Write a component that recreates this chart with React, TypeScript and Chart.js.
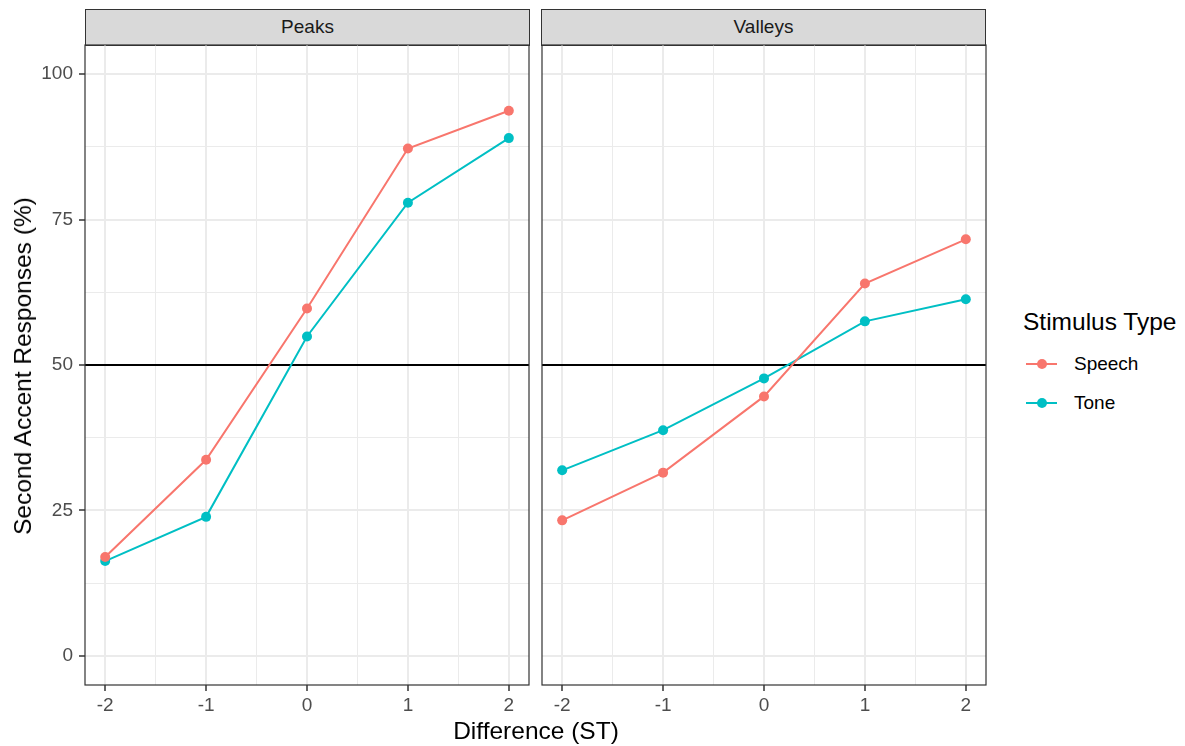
import React, { useEffect, useRef } from "react";
import { Chart, registerables } from "chart.js";

Chart.register(...registerables);

const xValues = [-2, -1, 0, 1, 2];
const peaksSpeech = [17.0, 33.7, 59.7, 87.2, 93.7];
const peaksTone = [16.3, 23.9, 54.9, 77.9, 89.0];
const valleysSpeech = [23.3, 31.5, 44.6, 64.0, 71.6];
const valleysTone = [31.9, 38.8, 47.7, 57.5, 61.3];
const xTickValues = [-2, -1.5, -1, -0.5, 0, 0.5, 1, 1.5, 2];
const yTickValues = [0, 12.5, 25, 37.5, 50, 62.5, 75, 87.5, 100];
const referenceLine = 50;
const seriesNames = ["Speech", "Tone"];
const seriesColors = ["#F8766D", "#00BFC4"];
const panelTitles = ["Peaks", "Valleys"];

const FONT = "'Liberation Sans', Arial, sans-serif";
const TICK_SIZE = 19;
const TITLE_SIZE = 24.5;

const isMajor = (v: number) => Math.abs(v - Math.round(v)) < 1e-9;

function makeChart(canvas: HTMLCanvasElement, speech: number[], tone: number[], showY: boolean) {
  const frame = {
    id: "frame",
    beforeDatasetsDraw(chart: any) {
      const { ctx, chartArea, scales } = chart;
      const y = scales.y.getPixelForValue(referenceLine);
      ctx.save();
      ctx.strokeStyle = "#000000";
      ctx.lineWidth = 2;
      ctx.beginPath();
      ctx.moveTo(chartArea.left, y);
      ctx.lineTo(chartArea.right, y);
      ctx.stroke();
      ctx.restore();
    },
    afterDraw(chart: any) {
      const { ctx, chartArea } = chart;
      ctx.save();
      ctx.strokeStyle = "#333333";
      ctx.lineWidth = 1.2;
      ctx.strokeRect(chartArea.left, chartArea.top, chartArea.right - chartArea.left, chartArea.bottom - chartArea.top);
      ctx.restore();
    },
  };
  const mk = (vals: number[], i: number) => ({
    label: seriesNames[i],
    data: xValues.map((x, k) => ({ x, y: vals[k] })),
    borderColor: seriesColors[i],
    backgroundColor: seriesColors[i],
    borderWidth: 2,
    pointRadius: 5,
    pointBorderWidth: 0,
    pointBackgroundColor: seriesColors[i],
    showLine: true,
    tension: 0,
  });
  return new Chart(canvas, {
    type: "scatter",
    data: { datasets: [mk(speech, 0), mk(tone, 1)] },
    options: {
      animation: false,
      responsive: false,
      maintainAspectRatio: false,
      events: [],
      layout: { padding: showY ? { top: 5, right: 11, bottom: 5, left: 0 } : { top: 5, right: 5, bottom: 5, left: 0 } },
      plugins: { legend: { display: false }, tooltip: { enabled: false } },
      scales: {
        x: {
          type: "linear",
          min: -2.2,
          max: 2.2,
          afterBuildTicks: (axis: any) => {
            axis.ticks = xTickValues.map((v) => ({ value: v }));
          },
          afterFit: (axis: any) => {
            axis.height = 50;
            axis.paddingLeft = 0;
            axis.paddingRight = 0;
          },
          border: { display: false },
          grid: {
            color: "#EBEBEB",
            lineWidth: (c: any) => (isMajor(c.tick.value) ? 2 : 1),
            tickColor: (c: any) => (isMajor(c.tick.value) ? "#333333" : "rgba(0,0,0,0)"),
            tickWidth: 1.5,
            tickLength: 6,
          },
          ticks: {
            autoSkip: false,
            maxRotation: 0,
            padding: 3,
            color: "#4D4D4D",
            font: { family: FONT, size: TICK_SIZE },
            callback: (v: any) => (isMajor(Number(v)) ? String(v) : ""),
          },
        },
        y: {
          type: "linear",
          min: -5,
          max: 105,
          afterBuildTicks: (axis: any) => {
            axis.ticks = yTickValues.map((v) => ({ value: v }));
          },
          afterFit: (axis: any) => {
            axis.width = showY ? 85 : 6;
            axis.paddingTop = 0;
            axis.paddingBottom = 0;
          },
          border: { display: false },
          grid: {
            color: "#EBEBEB",
            lineWidth: (c: any) => (c.tick.value % 25 === 0 ? 2 : 1),
            tickColor: (c: any) => (showY && c.tick.value % 25 === 0 ? "#333333" : "rgba(0,0,0,0)"),
            tickWidth: 1.5,
            tickLength: 6,
          },
          ticks: {
            display: showY,
            autoSkip: false,
            padding: 6,
            color: "#4D4D4D",
            font: { family: FONT, size: TICK_SIZE },
            callback: (v: any) => (Number(v) % 25 === 0 ? String(v) : ""),
          },
        },
      },
    },
    plugins: [frame],
  } as any);
}

const stripStyle = (left: number, width: number): React.CSSProperties => ({
  position: "absolute",
  left,
  top: 9,
  width,
  height: 36.5,
  boxSizing: "border-box",
  background: "#D9D9D9",
  border: "1.2px solid #333333",
  display: "flex",
  alignItems: "center",
  justifyContent: "center",
  fontFamily: FONT,
  fontSize: TICK_SIZE,
  color: "#1A1A1A",
});

export default function App() {
  const refA = useRef<HTMLCanvasElement>(null);
  const refB = useRef<HTMLCanvasElement>(null);
  useEffect(() => {
    const a = makeChart(refA.current!, peaksSpeech, peaksTone, true);
    const b = makeChart(refB.current!, valleysSpeech, valleysTone, false);
    return () => {
      a.destroy();
      b.destroy();
    };
  }, []);
  return (
    <div style={{ position: "fixed", left: 0, top: 0, width: 1185, height: 746, background: "#fff", overflow: "hidden" }}>
      <div style={stripStyle(85, 445)}>{panelTitles[0]}</div>
      <div style={stripStyle(541, 445)}>{panelTitles[1]}</div>
      <canvas ref={refA} width={540} height={700} style={{ position: "absolute", left: 0, top: 40, width: 540, height: 700 }} />
      <canvas ref={refB} width={455} height={700} style={{ position: "absolute", left: 536, top: 40, width: 455, height: 700 }} />
      <div
        style={{
          position: "absolute",
          left: 23,
          top: 366,
          transform: "translate(-50%, -50%) rotate(-90deg)",
          whiteSpace: "nowrap",
          fontFamily: FONT,
          fontSize: TITLE_SIZE,
          color: "#000",
        }}
      >
        Second Accent Responses (%)
      </div>
      <div
        style={{
          position: "absolute",
          left: 536,
          top: 731,
          transform: "translate(-50%, -50%)",
          whiteSpace: "nowrap",
          fontFamily: FONT,
          fontSize: TITLE_SIZE,
          color: "#000",
        }}
      >
        Difference (ST)
      </div>
      <div
        style={{
          position: "absolute",
          left: 1023,
          top: 322,
          transform: "translateY(-50%)",
          fontFamily: FONT,
          fontSize: TITLE_SIZE,
          color: "#000",
          whiteSpace: "nowrap",
        }}
      >
        Stimulus Type
      </div>
      {seriesNames.map((name, i) => (
        <div key={name} style={{ position: "absolute", left: 1026, top: 364 + i * 39 - 12, height: 24, width: 155 }}>
          <div style={{ position: "absolute", left: 0, top: 11, width: 31, height: 2, background: seriesColors[i] }} />
          <div style={{ position: "absolute", left: 10.5, top: 7, width: 10, height: 10, borderRadius: "50%", background: seriesColors[i] }} />
          <div style={{ position: "absolute", left: 48, top: 0, lineHeight: "24px", fontFamily: FONT, fontSize: TICK_SIZE, color: "#000" }}>
            {name}
          </div>
        </div>
      ))}
    </div>
  );
}
